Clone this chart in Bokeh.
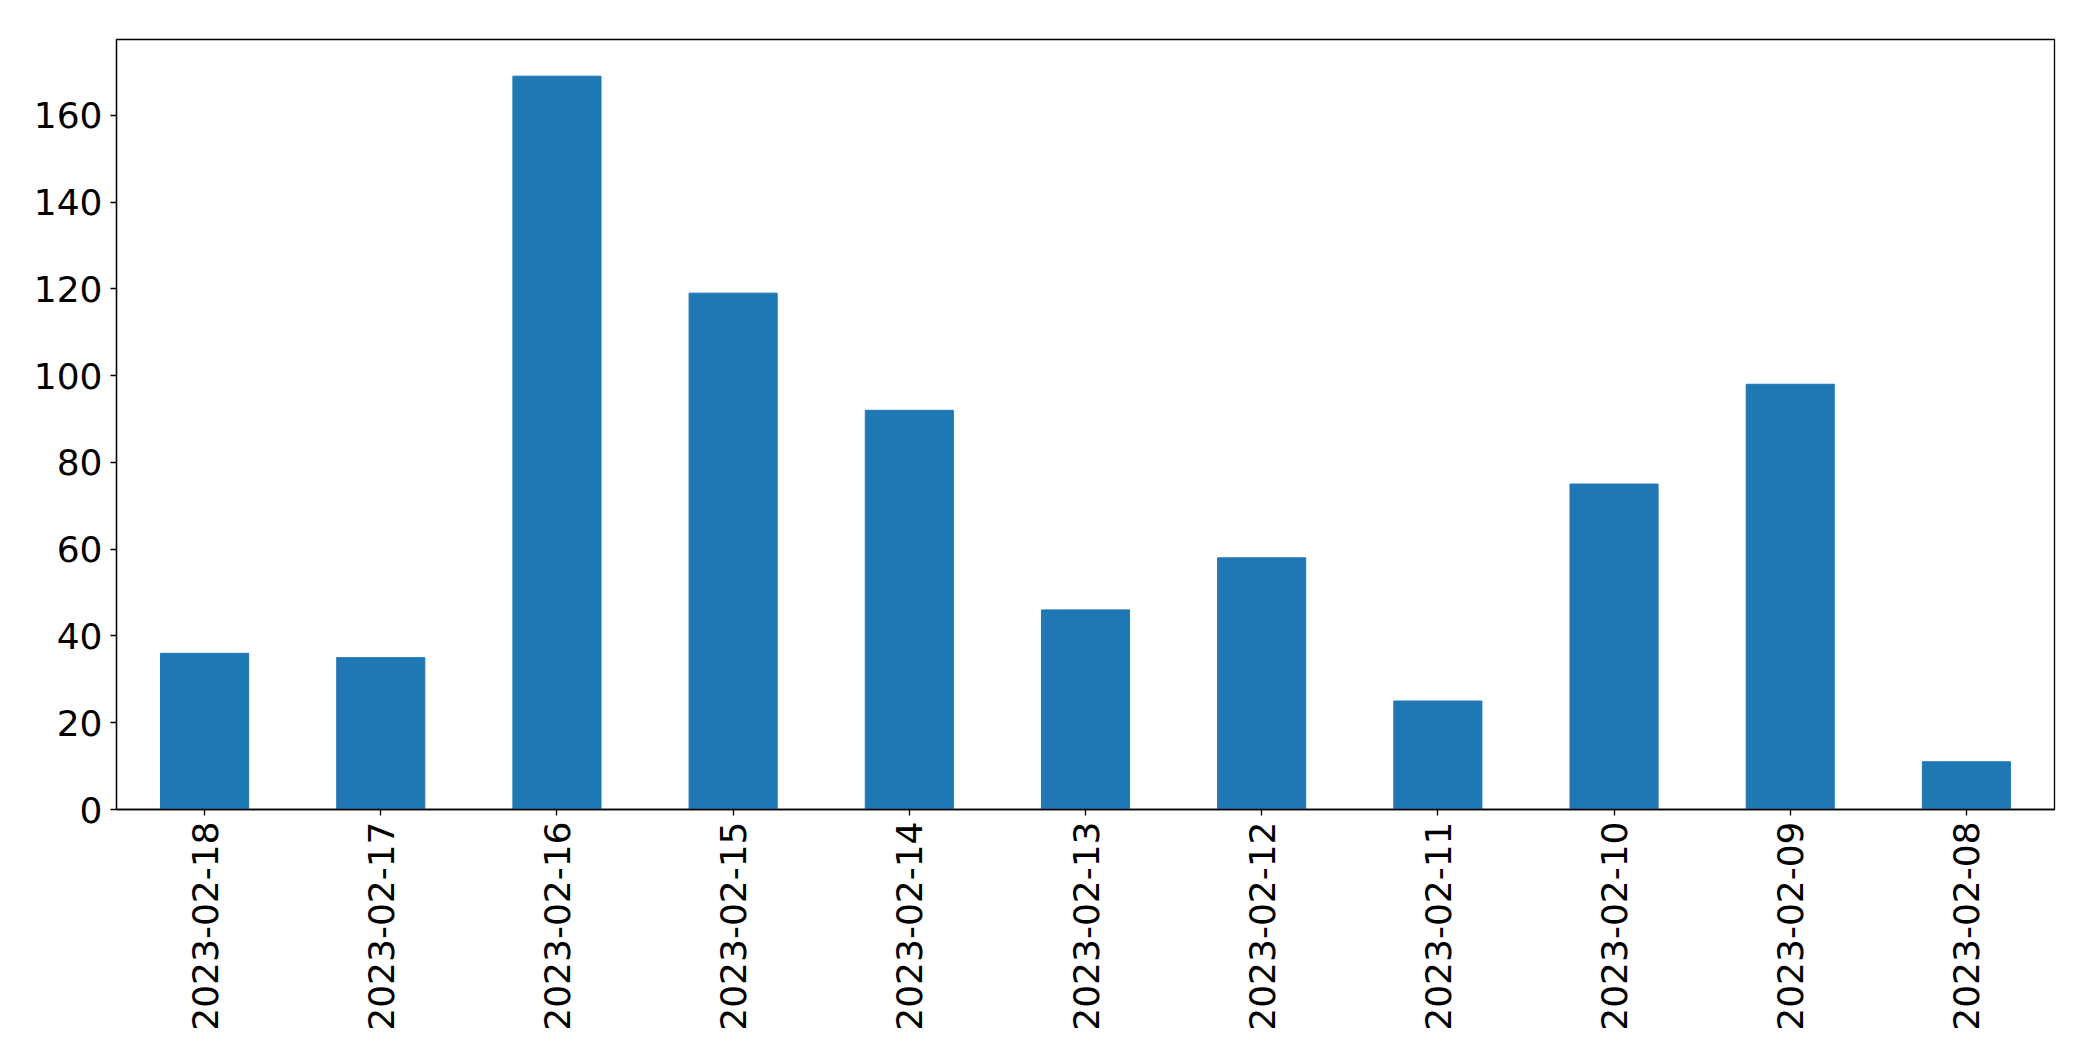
import math
from bokeh.plotting import figure
from bokeh.models import Range1d, FactorRange, FixedTicker
from bokeh.embed import file_html
from bokeh.resources import INLINE

dates = ["2023-02-18", "2023-02-17", "2023-02-16", "2023-02-15", "2023-02-14",
         "2023-02-13", "2023-02-12", "2023-02-11", "2023-02-10", "2023-02-09",
         "2023-02-08"]
counts = [36, 35, 169, 119, 92, 46, 58, 25, 75, 98, 11]
y_ticks = [0, 20, 40, 60, 80, 100, 120, 140, 160]

p = figure(x_range=FactorRange(factors=dates), y_range=Range1d(0, max(counts) * 1.05),
           width=2077, height=1045, output_backend="svg", toolbar_location=None,
           min_border_left=116, min_border_top=39, min_border_right=23, min_border_bottom=236)

p.vbar(x=dates, top=counts, width=0.5, color="#1f77b4")

p.xgrid.grid_line_color = None
p.ygrid.grid_line_color = None
p.outline_line_color = "black"
p.outline_line_width = 1.3
p.background_fill_color = "white"

for ax in (p.xaxis[0], p.yaxis[0]):
    ax.axis_line_color = "black"
    ax.axis_line_width = 1.3
    ax.major_tick_line_color = "black"
    ax.major_tick_line_width = 1.3
    ax.major_tick_out = 6
    ax.major_tick_in = 0
    ax.minor_tick_line_color = None
    ax.major_label_text_font = "DejaVu Sans"
    ax.major_label_text_font_size = "36px"
    ax.major_label_text_color = "black"

p.yaxis.ticker = FixedTicker(ticks=y_ticks)
p.yaxis.major_label_standoff = 8
p.xaxis.major_label_orientation = math.pi / 2
p.xaxis.major_label_standoff = 6
p.x_range.range_padding = 0

open("out.html", "w").write(file_html(p, INLINE))
